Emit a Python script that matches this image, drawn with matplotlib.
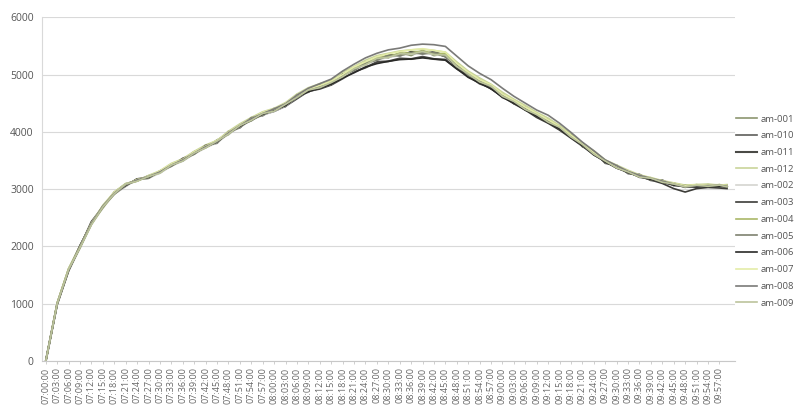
import matplotlib
matplotlib.use("Agg")
import matplotlib.pyplot as plt
import pandas as pd

plt.rcParams['font.family'] = ['Open Sans', 'DejaVu Sans']

# sample times (minutes after 07:00) for each reading
sample_minutes = list(range(0, 180, 3)) + [179]

# category tick labels every 3 minutes
tick_minutes = list(range(0, 180, 3))
tick_labels = [t.strftime("%H:%M:%S") for t in
               pd.date_range("2000-01-01 07:00:00", periods=len(tick_minutes), freq="3min")]

series_names = ["am-001", "am-010", "am-011", "am-012", "am-002", "am-003",
                "am-004", "am-005", "am-006", "am-007", "am-008", "am-009"]

am_001 = [0, 1010, 1610, 1980, 2420, 2670, 2950, 3080, 3140, 3230,
          3280, 3440, 3490, 3650, 3720, 3860, 3950, 4130, 4190, 4340,
          4360, 4500, 4590, 4760, 4760, 4900, 4950, 5130, 5160, 5310,
          5290, 5380, 5330, 5420, 5330, 5360, 5120, 5040, 4860, 4820,
          4610, 4560, 4380, 4330, 4160, 4110, 3900, 3800, 3600, 3500,
          3370, 3320, 3210, 3200, 3110, 3100, 3030, 3080, 3040, 3080,
          3040]
am_010 = [0, 990, 1570, 2010, 2390, 2710, 2920, 3050, 3180, 3190,
          3320, 3400, 3540, 3610, 3770, 3800, 4010, 4070, 4250, 4280,
          4410, 4440, 4650, 4690, 4830, 4820, 5010, 5060, 5220, 5240,
          5350, 5320, 5400, 5360, 5400, 5330, 5190, 4970, 4920, 4750,
          4670, 4490, 4440, 4260, 4220, 4040, 3960, 3740, 3660, 3450,
          3420, 3270, 3260, 3150, 3160, 3060, 3070, 3030, 3080, 3040,
          3070]
am_011 = [0, 1000, 1600, 1990, 2430, 2690, 2940, 3090, 3150, 3230,
          3290, 3430, 3500, 3650, 3730, 3840, 3990, 4080, 4230, 4300,
          4360, 4450, 4580, 4710, 4750, 4820, 4930, 5050, 5120, 5220,
          5230, 5280, 5270, 5310, 5270, 5260, 5100, 4980, 4840, 4770,
          4600, 4520, 4380, 4300, 4160, 4070, 3900, 3770, 3600, 3490,
          3370, 3310, 3210, 3190, 3120, 3100, 3050, 3060, 3040, 3070,
          3040]
am_012 = [0, 1020, 1620, 2010, 2410, 2720, 2950, 3100, 3140, 3240,
          3320, 3450, 3530, 3660, 3770, 3850, 4010, 4140, 4250, 4350,
          4410, 4510, 4660, 4770, 4840, 4900, 5040, 5140, 5250, 5330,
          5370, 5410, 5430, 5440, 5420, 5390, 5220, 5060, 4940, 4830,
          4690, 4570, 4460, 4340, 4240, 4110, 3970, 3800, 3670, 3510,
          3420, 3330, 3250, 3200, 3150, 3110, 3070, 3080, 3090, 3070,
          3080]
am_002 = [0, 980, 1570, 1970, 2380, 2670, 2910, 3050, 3170, 3190,
          3280, 3400, 3490, 3610, 3720, 3810, 3960, 4080, 4200, 4290,
          4360, 4450, 4600, 4700, 4770, 4830, 4960, 5070, 5170, 5250,
          5300, 5330, 5360, 5370, 5350, 5320, 5140, 4980, 4880, 4770,
          4630, 4510, 4400, 4280, 4180, 4060, 3920, 3760, 3620, 3470,
          3380, 3290, 3220, 3170, 3120, 3070, 3040, 3050, 3050, 3050,
          3040]
am_003 = [0, 1010, 1590, 2020, 2400, 2700, 2930, 3060, 3180, 3200,
          3310, 3410, 3530, 3620, 3760, 3820, 3990, 4090, 4240, 4300,
          4400, 4460, 4640, 4700, 4810, 4840, 5000, 5080, 5210, 5260,
          5340, 5340, 5390, 5370, 5380, 5310, 5150, 4960, 4870, 4750,
          4610, 4490, 4380, 4250, 4150, 4030, 3890, 3750, 3600, 3480,
          3370, 3290, 3220, 3160, 3100, 3010, 2950, 3010, 3030, 3020,
          3010]
am_004 = [0, 1000, 1590, 1980, 2390, 2680, 2920, 3080, 3150, 3220,
          3300, 3430, 3510, 3640, 3740, 3840, 3970, 4110, 4210, 4320,
          4390, 4490, 4620, 4740, 4790, 4870, 4980, 5110, 5190, 5290,
          5320, 5370, 5380, 5410, 5370, 5360, 5160, 5020, 4890, 4800,
          4650, 4540, 4420, 4310, 4200, 4090, 3940, 3790, 3640, 3500,
          3400, 3310, 3240, 3190, 3140, 3090, 3060, 3070, 3070, 3070,
          3060]
am_005 = [0, 990, 1580, 1990, 2400, 2700, 2910, 3070, 3170, 3190,
          3310, 3400, 3520, 3610, 3750, 3810, 3990, 4080, 4230, 4290,
          4390, 4460, 4620, 4700, 4800, 4830, 4990, 5070, 5200, 5250,
          5330, 5330, 5380, 5360, 5380, 5310, 5170, 4980, 4890, 4760,
          4650, 4500, 4420, 4270, 4200, 4050, 3940, 3750, 3640, 3460,
          3400, 3280, 3240, 3160, 3140, 3070, 3060, 3050, 3070, 3050,
          3060]
am_006 = [0, 1000, 1590, 2000, 2410, 2690, 2940, 3070, 3170, 3210,
          3300, 3420, 3500, 3630, 3730, 3830, 3970, 4100, 4200, 4310,
          4370, 4460, 4600, 4700, 4760, 4830, 4940, 5030, 5130, 5190,
          5230, 5260, 5270, 5290, 5270, 5250, 5100, 4950, 4850, 4750,
          4610, 4500, 4390, 4270, 4170, 4050, 3910, 3760, 3620, 3470,
          3380, 3290, 3220, 3170, 3120, 3070, 3040, 3040, 3050, 3050,
          3040]
am_007 = [0, 1020, 1610, 2000, 2410, 2700, 2950, 3080, 3170, 3220,
          3320, 3440, 3520, 3650, 3750, 3850, 3990, 4120, 4230, 4340,
          4400, 4500, 4640, 4750, 4810, 4880, 5000, 5130, 5220, 5310,
          5360, 5400, 5430, 5450, 5420, 5390, 5190, 5040, 4910, 4820,
          4660, 4550, 4430, 4320, 4210, 4090, 3940, 3790, 3640, 3500,
          3400, 3320, 3240, 3200, 3140, 3100, 3060, 3080, 3070, 3080,
          3060]
am_008 = [0, 1000, 1590, 1990, 2400, 2700, 2930, 3080, 3160, 3220,
          3300, 3420, 3510, 3630, 3740, 3830, 3980, 4110, 4230, 4320,
          4400, 4490, 4640, 4760, 4840, 4920, 5060, 5180, 5290, 5370,
          5430, 5460, 5510, 5530, 5520, 5490, 5320, 5150, 5020, 4910,
          4760, 4620, 4500, 4380, 4290, 4150, 3990, 3820, 3670, 3510,
          3410, 3310, 3240, 3190, 3140, 3090, 3040, 3060, 3060, 3070,
          3050]
am_009 = [0, 1000, 1600, 1980, 2380, 2690, 2920, 3090, 3140, 3220,
          3280, 3420, 3490, 3630, 3720, 3840, 3960, 4110, 4200, 4320,
          4360, 4480, 4600, 4730, 4770, 4860, 4960, 5100, 5170, 5280,
          5300, 5360, 5360, 5400, 5350, 5340, 5140, 5010, 4870, 4800,
          4620, 4530, 4390, 4300, 4170, 4080, 3910, 3780, 3610, 3490,
          3370, 3300, 3210, 3190, 3120, 3090, 3040, 3070, 3050, 3070,
          3040]

series_values = [am_001, am_010, am_011, am_012, am_002, am_003,
                 am_004, am_005, am_006, am_007, am_008, am_009]

colors = ["#8c9670", "#5e5e5a", "#4a4a46", "#c9d49a", "#d4d4d0", "#3c3c38",
          "#aab868", "#7e8270", "#2a2a28", "#e4eca8", "#7a7a78", "#bcc49c"]
widths = [1.2, 1.2, 1.5, 1.2, 1.2, 1.2, 1.2, 1.2, 1.2, 1.2, 1.2, 1.2]

fig = plt.figure(figsize=(7.98, 4.09), dpi=100)
ax = fig.add_axes([0.0526, 0.117, 0.868, 0.841])

for name, vals, c, w in zip(series_names, series_values, colors, widths):
    ax.plot(sample_minutes, vals, color=c, lw=w, label=name, solid_joinstyle="round")

ax.set_xlim(-1, 181)
ax.set_ylim(0, 6000)
ax.set_yticks(range(0, 6001, 1000))
ax.set_xticks(tick_minutes)
ax.set_xticklabels(tick_labels, rotation=90, fontsize=6.5, color="#666666")
ax.tick_params(axis="y", length=0, labelsize=7.5, labelcolor="#555555", pad=6)
ax.tick_params(axis="x", length=2.5, width=0.6, color="#c8c8c8", pad=2)

ax.grid(axis="y", color="#d9d9d9", lw=0.8)
ax.set_axisbelow(True)
for s in ("top", "right"):
    ax.spines[s].set_visible(False)
ax.spines["left"].set_color("#d9d9d9")
ax.spines["left"].set_linewidth(0.8)
ax.spines["bottom"].set_color("#c8c8c8")
ax.spines["bottom"].set_linewidth(0.8)

leg = fig.legend(loc="upper left", bbox_to_anchor=(0.922, 0.72), frameon=False,
                 fontsize=6.8, handlelength=2.2, handletextpad=0.4,
                 labelspacing=0.82, borderaxespad=0, borderpad=0)
for t in leg.get_texts():
    t.set_color("#555555")

fig.savefig("out.png", dpi=100, facecolor="white")
